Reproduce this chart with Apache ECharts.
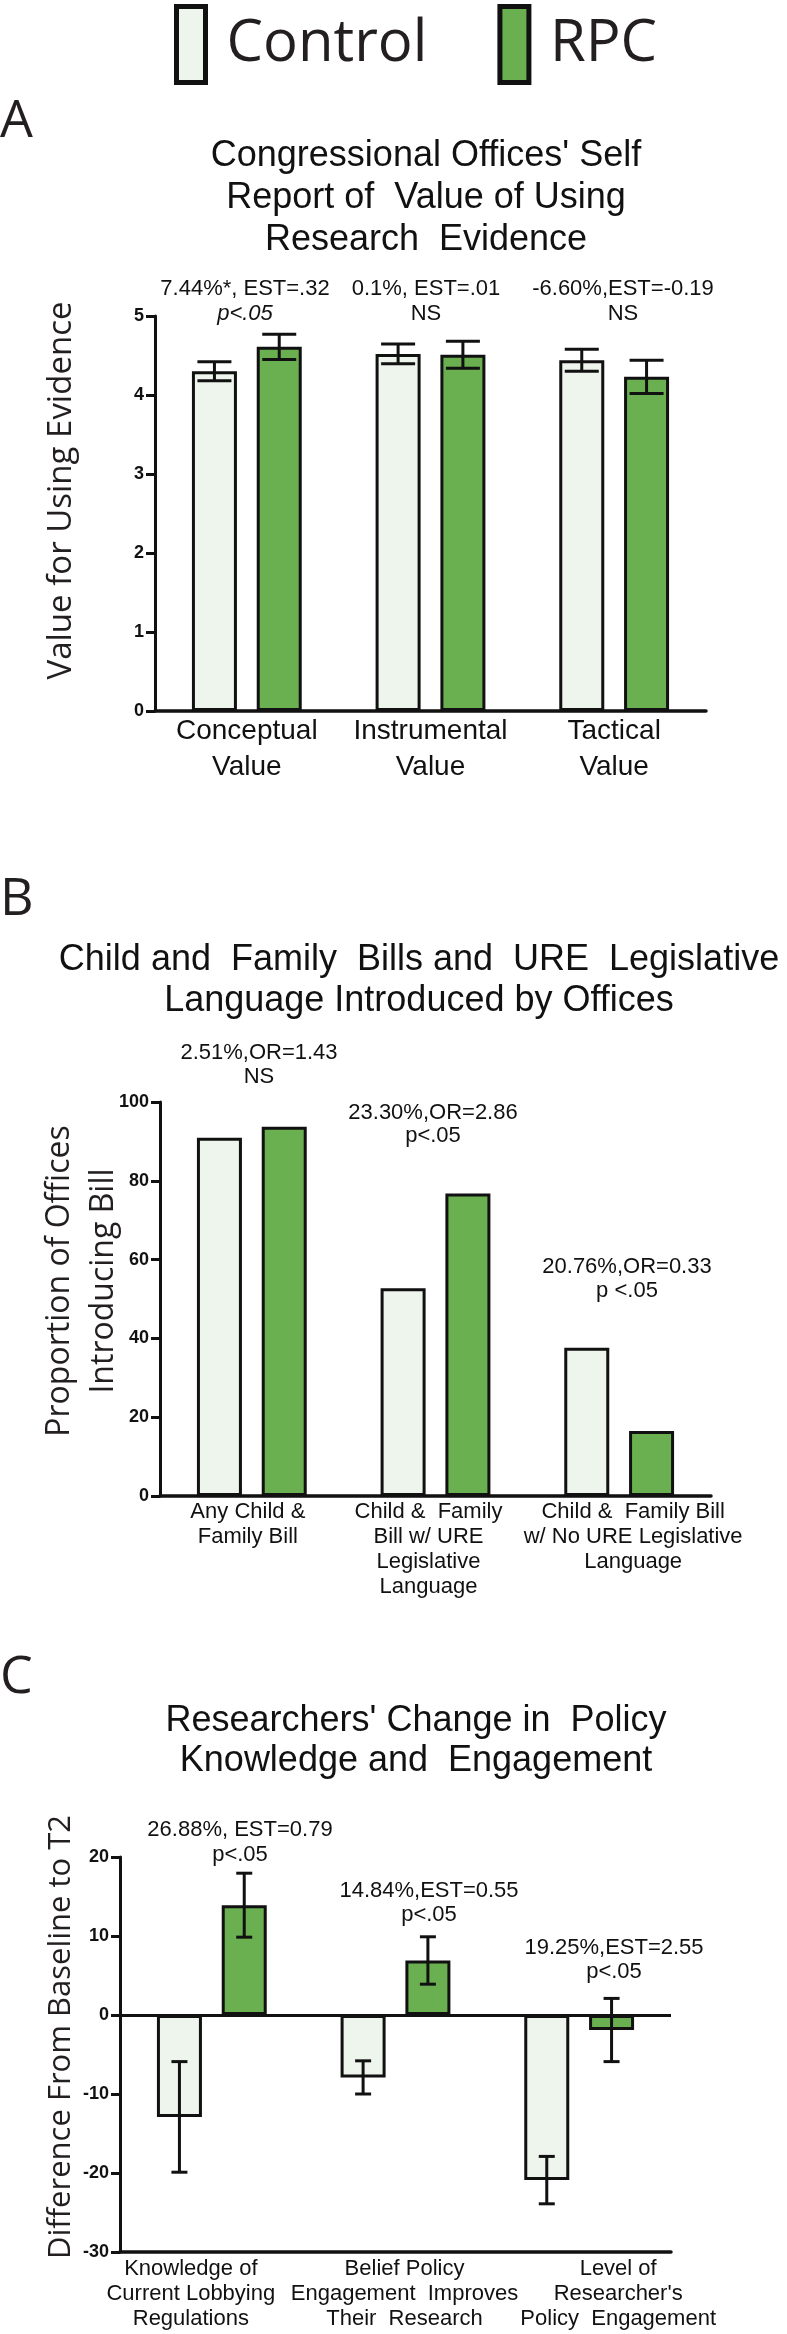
<!DOCTYPE html>
<html><head><meta charset="utf-8">
<script src="https://cdn.jsdelivr.net/npm/echarts@6/dist/echarts.min.js"></script>
<style>html,body{margin:0;padding:0;background:#fff}#c{width:787px;height:2334px}</style>
</head><body><div id="c"></div>
<script>
// ---------- data ----------
const legendNames = ['Control', 'RPC'];

const catsA = ['Conceptual\nValue', 'Instrumental\nValue', 'Tactical\nValue'];
const ctrlA = [4.30, 4.52, 4.44];
const ctrlAErr = [0.12, 0.125, 0.14];
const rpcA = [4.61, 4.51, 4.23];
const rpcAErr = [0.16, 0.17, 0.21];
const ticksA = [0, 1, 2, 3, 4, 5];
const annA1 = ['7.44%*, EST=.32', '0.1%, EST=.01', '-6.60%,EST=-0.19'];
const annA2 = ['p<.05', 'NS', 'NS'];

const catsB = ['Any Child &\nFamily Bill', 'Child &  Family\nBill w/ URE\nLegislative\nLanguage', 'Child &  Family Bill\nw/ No URE Legislative\nLanguage'];
const ctrlB = [90.9, 52.7, 37.6];
const rpcB = [93.7, 76.8, 16.5];
const ticksB = [0, 20, 40, 60, 80, 100];
const annB1 = ['2.51%,OR=1.43', '23.30%,OR=2.86', '20.76%,OR=0.33'];
const annB2 = ['NS', 'p<.05', 'p <.05'];

const catsC = ['Knowledge of\nCurrent Lobbying\nRegulations', 'Belief Policy\nEngagement  Improves\nTheir  Research', 'Level of\nResearcher\'s\nPolicy  Engagement'];
const ctrlC = [-12.9, -7.9, -20.9];
const ctrlCErr = [7.0, 2.1, 3.0];
const rpcC = [13.9, 6.9, -1.9];
const rpcCErr = [4.05, 3.0, 4.0];
const ticksC = [-30, -20, -10, 0, 10, 20];
const annC1 = ['26.88%, EST=0.79', '14.84%,EST=0.55', '19.25%,EST=2.55'];
const annC2 = ['p<.05', 'p<.05', 'p<.05'];

const titleA = "Congressional Offices' Self\nReport of  Value of Using\nResearch  Evidence";
const titleB = 'Child and  Family  Bills and  URE  Legislative\nLanguage Introduced by Offices';
const titleC = "Researchers' Change in  Policy\nKnowledge and  Engagement";
const yNameA = 'Value for Using Evidence';
const yNameB = 'Proportion of Offices\nIntroducing Bill';
const yNameC = 'Difference From Baseline to T2';

// ---------- styling ----------
const ARIAL = '"Liberation Sans", Arial, sans-serif';
const MYRIAD = '"Open Sans", "Noto Sans", sans-serif';
const INK = '#111111';
const LIGHT = '#EEF5EC';
const GREEN = '#6AAF50';
const BAR_W = 45;
const GAP = 0.44;
const OFF = (BAR_W + BAR_W * GAP) / 2;

const grids = [
  {left: 155, width: 551, top: 316, height: 395},
  {left: 160, width: 551, top: 1102, height: 394},
  {left: 120, width: 551, top: 1857, height: 395}
].map(g => Object.assign(g, {containLabel: false, outerBoundsMode: 'none'}));

function shiftLabel(v, d) {
  if (!d) return v;
  return {value: v, textStyle: {padding: d > 0 ? [0, 0, 0, 2 * d] : [0, -2 * d, 0, 0]}};
}

function xAxisOf(i, cats, fs, lh, margin, shifts, onZero) {
  return {
    type: 'category', gridIndex: i,
    data: cats.map((c, k) => shiftLabel(c, shifts[k])),
    axisLine: {onZero: onZero, lineStyle: {color: INK, width: 3.5}},
    axisTick: {show: false},
    axisLabel: {interval: 0, margin: margin, color: INK, fontFamily: ARIAL, fontSize: fs, lineHeight: lh},
    splitLine: {show: false}
  };
}
function yAxisOf(i, ticks, name, nameGap, nameSize, nameLH, padLeft) {
  return {
    type: 'value', gridIndex: i,
    min: ticks[0], max: ticks[ticks.length - 1], interval: ticks[1] - ticks[0],
    axisLine: {show: true, lineStyle: {color: INK, width: 3}},
    axisTick: {show: true, length: 9, lineStyle: {color: INK, width: 3}},
    axisLabel: {margin: 11, color: INK, fontFamily: ARIAL, fontWeight: 'bold', fontSize: 18},
    splitLine: {show: false},
    name: name, nameLocation: 'middle', nameGap: nameGap, nameMoveOverlap: false,
    nameTextStyle: {fontFamily: MYRIAD, fontSize: nameSize, color: '#231f20', lineHeight: nameLH, padding: [0, 0, 0, padLeft]}
  };
}
function barSeries(name, i, data, color, extra) {
  return Object.assign({
    name: name, type: 'bar', xAxisIndex: i, yAxisIndex: i, data: data,
    barWidth: BAR_W, barGap: (GAP * 100) + '%',
    itemStyle: {color: color, borderColor: INK, borderWidth: 3},
    silent: true
  }, extra || {});
}
function errSeries(i, mean, err, dir, half) {
  return {
    type: 'custom', xAxisIndex: i, yAxisIndex: i, silent: true, z: 10,
    data: mean.map((m, k) => [k, m, err[k]]),
    encode: {x: 0, y: 1},
    renderItem: function (params, api) {
      const k = api.value(0), m = api.value(1), e = api.value(2);
      const c = api.coord([k, m]);
      const t = api.coord([k, m + e]);
      const b = api.coord([k, m - e]);
      const x = c[0] + dir * OFF;
      const st = {stroke: INK, lineWidth: 3};
      return {type: 'group', children: [
        {type: 'line', shape: {x1: x, y1: t[1], x2: x, y2: b[1]}, style: st},
        {type: 'line', shape: {x1: x - half, y1: t[1], x2: x + half, y2: t[1]}, style: st},
        {type: 'line', shape: {x1: x - half, y1: b[1], x2: x + half, y2: b[1]}, style: st}
      ]};
    }
  };
}
function txt(text, x, y, font, opts) {
  return {type: 'text', x: x, y: y, silent: true, z: 100,
    style: Object.assign({text: text, fill: INK, font: font, textAlign: 'center', textVerticalAlign: 'middle'}, opts || {})};
}

const graphics = [
  txt('A', 0, 122, '52px ' + MYRIAD, {textAlign: 'left', fill: '#231f20'}),
  txt('B', 0, 900, '52px ' + MYRIAD, {textAlign: 'left', fill: '#231f20'}),
  txt('C', 0, 1678, '52px ' + MYRIAD, {textAlign: 'left', fill: '#231f20'}),
  txt(titleA, 426, 198, '36px ' + ARIAL, {lineHeight: 42}),
  txt(titleB, 419, 981, '36px ' + ARIAL, {lineHeight: 41}),
  txt(titleC, 416, 1741, '36px ' + ARIAL, {lineHeight: 40})
];
const annPos = [
  {x: [245, 426, 623], y1: [289, 289, 289], y2: [314, 314, 314], it: [true, false, false]},
  {x: [259, 433, 627], y1: [1053, 1113, 1267], y2: [1077, 1136, 1291], it: [false, false, false]},
  {x: [240, 429, 614], y1: [1830, 1891, 1948], y2: [1855, 1915, 1972], it: [false, false, false]}
];
[[annA1, annA2], [annB1, annB2], [annC1, annC2]].forEach((pair, p) => {
  const pos = annPos[p];
  pair[0].forEach((t, k) => {
    graphics.push(txt(t, pos.x[k], pos.y1[k], '22px ' + ARIAL));
    graphics.push(txt(pair[1][k], pos.x[k], pos.y2[k], (pos.it[k] ? 'italic ' : '') + '22px ' + ARIAL));
  });
});

const option = {
  backgroundColor: '#ffffff',
  animation: false,
  legend: {
    data: legendNames, left: 174, top: 4, padding: 0,
    itemWidth: 29, itemHeight: 76, itemGap: 70, icon: 'rect',
    itemStyle: {borderColor: INK, borderWidth: 5},
    textStyle: {fontFamily: MYRIAD, fontSize: 58, color: '#231f20', padding: [0, 0, 0, 16]},
    selectedMode: false
  },
  grid: grids,
  xAxis: [
    xAxisOf(0, catsA, 28, 36, 2, [0, 0, 0], true),
    xAxisOf(1, catsB, 22, 25, 3, [-4, -7, 14], true),
    xAxisOf(2, catsC, 22, 25, 4, [-21, 9, 39], false)
  ],
  yAxis: [
    yAxisOf(0, ticksA, yNameA, 73, 33, 40, 46),
    yAxisOf(1, ticksB, yNameB, 34, 32, 44, 36),
    yAxisOf(2, ticksC, yNameC, 39, 31, 40, 35)
  ],
  series: [
    barSeries('Control', 0, ctrlA, LIGHT),
    barSeries('RPC', 0, rpcA, GREEN),
    errSeries(0, ctrlA, ctrlAErr, -1, 17),
    errSeries(0, rpcA, rpcAErr, 1, 17),
    barSeries('Control', 1, ctrlB, LIGHT),
    barSeries('RPC', 1, rpcB, GREEN),
    barSeries('Control', 2, ctrlC, LIGHT),
    barSeries('RPC', 2, rpcC, GREEN, {
      markLine: {silent: true, symbol: 'none', label: {show: false},
        lineStyle: {color: INK, width: 3, type: 'solid'}, data: [{yAxis: 0}]}
    }),
    errSeries(2, ctrlC, ctrlCErr, -1, 8),
    errSeries(2, rpcC, rpcCErr, 1, 8)
  ],
  graphic: graphics
};

const chart = echarts.init(document.getElementById('c'), null, {renderer: 'canvas'});
chart.setOption(option);
</script>
</body></html>
